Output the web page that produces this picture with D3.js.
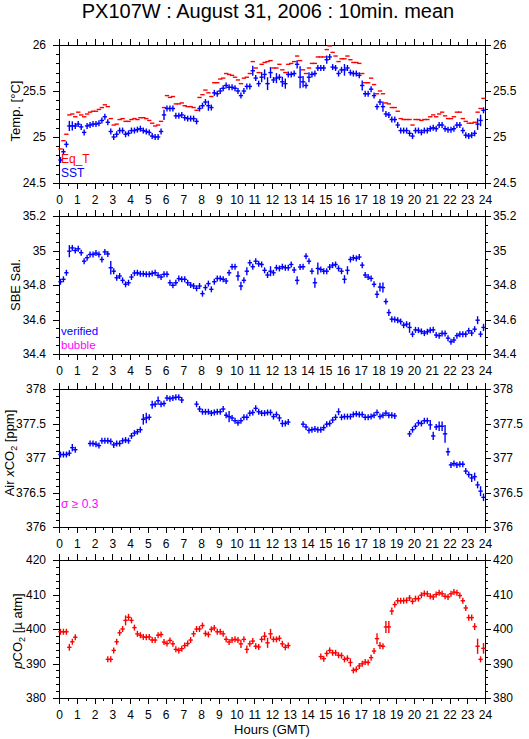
<!DOCTYPE html>
<html><head><meta charset="utf-8">
<script src="https://cdn.jsdelivr.net/npm/d3@7/dist/d3.min.js"></script>
<style>
body{margin:0;background:#fff;}
svg{display:block;font-family:"Liberation Sans",Arial,Helvetica,sans-serif;}
</style></head>
<body>
<script>
// ---------- data (10-minute means, index i -> hour (i+0.5)/6) ----------
const hourTicks = d3.range(0, 25, 1);
const sst = [24.75,24.84,24.92,25.12,25.12,25.12,25.14,25.11,25.05,25.12,
25.13,25.14,25.14,25.15,25.18,25.22,25.16,25.06,25.00,25.03,
25.07,25.07,25.03,25.04,25.07,25.07,25.08,25.09,25.07,25.06,
25.05,25.01,25.00,25.00,25.06,25.24,25.31,25.31,25.31,25.23,
25.23,25.24,25.21,25.20,25.20,25.20,25.17,25.31,25.34,25.38,
25.34,25.32,25.48,25.47,25.50,25.53,25.56,25.54,25.54,25.53,
25.50,25.45,25.50,25.55,25.55,25.72,25.64,25.58,25.65,25.68,
25.58,
25.70,25.62,25.64,25.65,25.60,25.58,25.68,25.68,25.69,25.79,
25.65,25.60,25.56,25.65,25.68,25.69,25.75,25.75,25.75,25.84,
25.87,25.76,25.75,25.69,25.73,25.73,25.75,25.70,25.69,25.69,
25.67,25.56,25.47,25.47,25.52,25.45,25.33,25.38,25.33,25.25,
25.24,25.19,25.19,25.13,25.07,25.07,25.07,25.04,25.01,25.07,
25.07,25.05,25.07,25.07,25.09,25.10,25.09,25.13,25.13,25.09,
25.08,25.08,25.09,25.13,25.13,25.07,25.02,25.01,25.02,25.04,
25.14,25.18,25.29];
const sstSd = [[3,0.055],[4,0.05],[35,0.055],[50,0.055],[65,0.055],[68,0.055],[69,0.055],[70,0.07],[71,0.06],
[73,0.055],[75,0.055],[76,0.055],[80,0.045],[81,0.12],[82,0.063],[84,0.055],[90,0.045],[96,0.063],
[102,0.055],[109,0.055],[141,0.063],[142,0.063]];
const eqT = [24.87,24.96,25.03,25.24,25.25,25.22,25.27,25.24,25.22,25.25,
25.27,25.28,25.28,25.30,25.32,25.35,25.33,25.20,25.13,25.14,
25.19,25.20,25.17,25.17,25.19,25.20,25.19,25.21,25.21,25.20,
25.18,25.15,25.12,25.13,25.17,25.32,25.45,25.43,25.44,25.36,
25.36,25.37,25.34,25.33,25.33,25.32,25.29,25.43,25.46,25.51,
25.48,25.44,25.59,25.59,25.63,25.64,25.69,25.68,25.67,25.65,
25.62,25.58,25.64,25.65,25.69,25.82,25.75,25.70,25.79,25.81,
25.82,
25.83,25.75,25.75,25.79,25.73,25.70,25.79,25.80,25.82,25.88,
25.83,25.73,25.69,25.75,25.80,25.80,25.87,25.87,25.87,25.95,
25.99,25.92,25.88,25.82,25.85,25.85,25.88,25.84,25.81,25.81,
25.80,25.69,25.59,25.59,25.64,25.57,25.47,25.50,25.47,25.37,
25.36,25.32,25.32,25.28,25.20,25.19,25.19,25.19,25.13,25.19,
25.19,25.18,25.19,25.19,25.22,25.24,25.22,25.25,25.27,25.23,
25.20,25.20,25.22,25.27,25.27,25.20,25.17,25.15,25.15,25.16,
25.27,25.31,25.42];
const sal = [34.819,34.833,34.871,34.996,35.015,35.000,35.010,34.987,34.938,34.958,
34.977,34.977,34.985,34.977,34.948,34.992,34.980,34.900,34.880,34.842,
34.852,34.827,34.804,34.813,34.846,34.869,34.871,34.865,34.865,34.862,
34.862,34.867,34.871,34.856,34.846,34.862,34.862,34.813,34.798,34.813,
34.837,34.833,34.833,34.813,34.800,34.794,34.781,34.794,34.750,34.785,
34.808,34.775,34.819,34.838,34.838,34.833,34.823,34.871,34.906,34.906,
34.852,34.794,34.827,34.880,34.929,34.906,34.938,34.923,34.919,34.885,
34.858,
34.880,34.871,34.900,34.896,34.906,34.900,34.900,34.919,34.887,34.827,
34.904,34.906,34.967,34.938,34.880,34.813,34.896,34.890,34.880,34.880,
34.904,34.915,34.919,34.896,34.880,34.833,34.885,34.948,34.958,34.954,
34.962,34.915,34.858,34.846,34.838,34.804,34.746,34.788,34.785,34.704,
34.640,34.602,34.600,34.596,34.588,34.567,34.573,34.554,34.515,34.540,
34.538,34.531,34.521,34.529,34.538,34.540,34.510,34.506,34.519,34.519,
34.492,34.471,34.481,34.506,34.515,34.515,34.515,34.535,34.521,34.544,
34.596,34.515,34.554];
const salSd = [[3,0.035],[17,0.039],[60,0.027],[61,0.025],[63,0.023],[71,0.029],[80,0.024],[86,0.029],
[87,0.035],[96,0.024],[97,0.024],[107,0.021],[108,0.025],[109,0.029],[111,0.02],[118,0.031],
[141,0.023],[143,0.021]];
const airX = [377.05,377.05,377.05,377.07,377.15,377.12,null,null,null,null,
377.21,377.21,377.20,377.18,377.25,377.25,377.25,377.24,377.19,377.21,
377.21,377.25,377.26,377.25,377.32,377.36,377.38,377.41,377.56,377.58,
377.59,377.77,377.78,377.83,377.78,377.79,377.87,377.86,377.87,377.88,
377.88,377.84,null,null,null,null,377.78,377.71,377.67,377.67,
377.67,377.65,377.66,377.67,377.67,377.71,377.62,377.60,377.58,377.54,
377.51,377.54,377.59,377.59,377.65,377.66,377.72,377.67,377.65,377.65,
377.66,377.66,377.60,377.63,377.58,377.50,377.50,377.52,null,null,
null,null,377.49,377.45,377.40,377.41,377.42,377.41,377.41,377.44,
377.49,377.50,377.55,377.59,377.67,377.59,377.60,377.60,377.60,377.63,
377.64,377.63,377.63,377.59,377.59,377.60,377.62,377.66,377.60,377.62,
377.65,377.62,377.62,377.61,null,null,null,null,377.35,377.41,
377.46,377.51,377.50,377.54,377.54,377.48,377.32,377.45,377.46,377.46,
377.35,377.09,376.90,376.92,376.90,376.91,376.91,376.81,376.76,376.71,
376.73,376.61,376.52,376.43];
const airSd = [[4,0.053],[28,0.077],[29,0.077],[31,0.058],[33,0.06],[57,0.082],[74,0.05],[75,0.05],
[94,0.05],[125,0.072],[126,0.06],[128,0.068],[129,0.068],[130,0.13],[131,0.058],[139,0.058],
[140,0.058],[141,0.05],[142,0.072],[143,0.055]];
const pco2 = [399.2,399.2,399.2,394.7,396.3,397.6,null,null,null,null,
null,null,null,null,null,null,391.2,391.2,393.8,396.3,
398.9,400.0,402.5,403.4,402.5,400.4,398.6,398.2,397.7,397.6,
397.7,396.8,396.8,398.2,398.4,396.2,395.8,396.7,395.7,394.1,
393.8,394.3,395.2,395.8,396.8,398.6,400.0,400.0,401.0,398.7,
398.4,399.9,400.3,399.2,399.2,398.6,397.0,396.2,396.8,397.0,
396.8,395.7,397.0,394.1,395.7,396.5,395.0,394.8,397.0,397.9,
396.0,398.6,397.0,397.0,397.3,395.7,394.7,395.2,null,null,
null,null,null,null,null,null,null,null,392.0,391.4,
392.9,393.8,393.1,393.1,392.4,392.3,391.2,391.5,390.3,388.0,
388.3,389.3,389.9,390.4,390.3,391.7,393.6,397.2,395.2,395.0,
400.6,400.6,405.2,407.1,408.2,408.2,408.2,408.3,409.0,408.0,
408.8,408.8,409.8,410.3,410.2,409.5,409.3,410.0,410.5,410.2,
409.5,409.3,410.2,410.7,410.5,409.7,408.2,406.1,403.3,403.3,
400.7,395.0,391.2,394.4];
const pco2Sd = [[3,1.0],[22,1.45],[23,1.0],[61,1.2],[63,1.1],[69,1.2],[70,1.45],[71,1.45],[98,1.2],
[107,1.6],[108,1.0],[110,1.75],[111,1.75],[112,1.05],[138,0.9],[139,0.9],[140,1.0],[141,2.2],[143,1.55]];

const tempTicks = [24.5,25,25.5,26], salTicks=[34.4,34.6,34.8,35,35.2],
      airTicks=[376,376.5,377,377.5,378], pTicks=[380,390,400,410,420];

// ---------- layout ----------
const W=529,H=739, X0=59, X1=485, PH=138;
const BLUE="#0000ff", RED="#ff0000", MAG="#ff00ff";
const svg=d3.select("body").append("svg").attr("width",W).attr("height",H);
svg.append("rect").attr("width",W).attr("height",H).attr("fill","#fff");
const x=d3.scaleLinear().domain([0,24]).range([X0,X1]);
const tOf=i=>(i+0.5)/6;
const fmt=d=>String(+d.toFixed(2));

svg.append("text").attr("x",268).attr("y",18).attr("text-anchor","middle")
  .attr("font-size",20).text("PX107W : August 31, 2006 : 10min. mean");

function panel(top, dom, ticks, minorStep){
  const y=d3.scaleLinear().domain(dom).range([top+PH,top]);
  const g=svg.append("g");
  const minors=d3.range(dom[0],dom[1]+minorStep/2,minorStep);
  const halfs=d3.range(0,24.01,0.5);
  const style=s=>{s.select(".domain").remove();s.selectAll("line").attr("stroke","#000").attr("shape-rendering","crispEdges");};
  // minor ticks
  g.append("g").attr("transform",`translate(0,${top+PH})`).call(d3.axisBottom(x).tickValues(halfs).tickSize(3).tickFormat("")).call(style);
  g.append("g").attr("transform",`translate(0,${top})`).call(d3.axisTop(x).tickValues(halfs).tickSize(3).tickFormat("")).call(style);
  g.append("g").attr("transform",`translate(${X0},0)`).call(d3.axisLeft(y).tickValues(minors).tickSize(3).tickFormat("")).call(style);
  g.append("g").attr("transform",`translate(${X1},0)`).call(d3.axisRight(y).tickValues(minors).tickSize(3).tickFormat("")).call(style);
  // major ticks
  const bx=g.append("g").attr("transform",`translate(0,${top+PH})`).call(d3.axisBottom(x).tickValues(hourTicks).tickSize(6).tickPadding(6).tickFormat(d3.format("d"))).call(style);
  g.append("g").attr("transform",`translate(0,${top})`).call(d3.axisTop(x).tickValues(hourTicks).tickSize(6).tickFormat("")).call(style);
  const ly=g.append("g").attr("transform",`translate(${X0},0)`).call(d3.axisLeft(y).tickValues(ticks).tickSize(6).tickPadding(7).tickFormat(fmt)).call(style);
  const ry=g.append("g").attr("transform",`translate(${X1},0)`).call(d3.axisRight(y).tickValues(ticks).tickSize(6).tickPadding(2).tickFormat(fmt)).call(style);
  [bx,ly,ry].forEach(a=>a.selectAll("text").attr("font-size",12).attr("font-family","Liberation Sans, Arial, sans-serif").attr("fill","#000"));
  g.append("rect").attr("x",X0).attr("y",top).attr("width",X1-X0).attr("height",PH)
   .attr("fill","none").attr("stroke","#000").attr("shape-rendering","crispEdges");
  return {y,top};
}

function crosses(p, vals, sdList, color, vertical){
  const sd=new Map(sdList||[]);
  const pts=vals.map((v,i)=>({i,v})).filter(d=>d.v!==null);
  const g=svg.append("g").attr("stroke",color).attr("stroke-width",1.4).attr("fill","none");
  pts.forEach(d=>{
    const cx=x(tOf(d.i)), cy=p.y(d.v);
    g.append("line").attr("x1",x(tOf(d.i)-5/60)-0.7).attr("x2",x(tOf(d.i)+5/60)+0.7).attr("y1",cy).attr("y2",cy);
    if(vertical){
      const s=sd.has(d.i)?Math.abs(p.y(d.v+sd.get(d.i))-cy):0;
      const hv=Math.max(3,s);
      g.append("line").attr("x1",cx).attr("x2",cx).attr("y1",cy-hv).attr("y2",cy+hv);
    }
  });
}

function ylabel(p, lx, cy, parts){
  const t=svg.append("text").attr("transform",`translate(${lx},${cy}) rotate(-90)`)
    .attr("text-anchor","middle").attr("font-size",13);
  parts.forEach(q=>{
    const s=t.append("tspan").text(q.t);
    if(q.i) s.attr("font-style","italic");
    if(q.sub) s.attr("font-size",9).attr("dy",3);
    if(q.back) s.attr("dy",-3);
  });
}

const p1=panel(45,[24.5,26],tempTicks,0.1);
crosses(p1,eqT,null,RED,false);
crosses(p1,sst,sstSd,BLUE,true);
ylabel(p1,20,111,[{t:"Temp. [°C]"}]);
svg.append("text").attr("x",61).attr("y",163).attr("font-size",12).attr("fill",RED).text("Eq_T");
svg.append("text").attr("x",61).attr("y",177).attr("font-size",12).attr("fill",BLUE).text("SST");

const p2=panel(216,[34.4,35.2],salTicks,0.05);
crosses(p2,sal,salSd,BLUE,true);
ylabel(p2,20,285,[{t:"SBE Sal."}]);
svg.append("text").attr("x",61).attr("y",335).attr("font-size",11.5).attr("fill",BLUE).text("verified");
svg.append("text").attr("x",61).attr("y",349).attr("font-size",11.5).attr("fill",MAG).text("bubble");

const p3=panel(389,[376,378],airTicks,0.1);
crosses(p3,airX,airSd,BLUE,true);
ylabel(p3,14,453,[{t:"Air "},{t:"x",i:true},{t:"CO"},{t:"2",sub:true},{t:" [ppm]",back:true}]);
svg.append("text").attr("x",61).attr("y",508).attr("font-size",12).attr("fill",MAG).text("σ ≥ 0.3");

const p4=panel(560,[380,420],pTicks,2);
crosses(p4,pco2,pco2Sd,RED,true);
ylabel(p4,22,631,[{t:"p",i:true},{t:"CO"},{t:"2",sub:true},{t:" [µ atm]",back:true}]);

svg.append("text").attr("x",272).attr("y",734).attr("text-anchor","middle").attr("font-size",13).text("Hours (GMT)");
</script>
</body></html>
